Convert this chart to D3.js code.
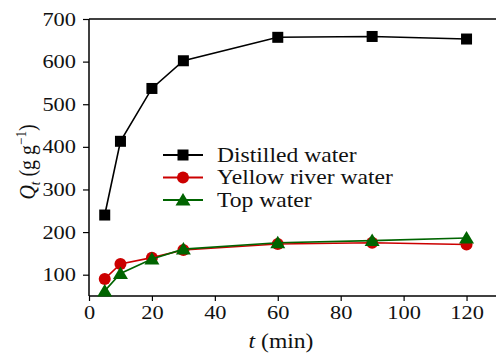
<!DOCTYPE html>
<html>
<head>
<meta charset="utf-8">
<script src="https://cdn.jsdelivr.net/npm/d3@7"></script>
<style>
  body { margin: 0; background: #fff; }
  svg { display: block; }
  svg text { font-family: "Liberation Serif", "Times New Roman", Times, serif; fill: #111; }
</style>
</head>
<body>
<script>
// data
const times = [5, 10, 20, 30, 60, 90, 120];
const distilled = [240, 413, 537, 602, 657, 659, 653];
const yellowRiver = [90, 125, 140, 158, 172, 175, 171];
const topWater = [62, 103, 137, 160, 175, 180, 186];

const xTicks = [0, 20, 40, 60, 80, 100, 120];
const yTicks = [100, 200, 300, 400, 500, 600, 700];

const series = [
    {name: 'Distilled water', values: distilled, colour: '#000', fill: '#000', marker: 'square'},
    {name: 'Yellow river water', values: yellowRiver, colour: '#cc0000', fill: '#cc0000', marker: 'circle'},
    {name: 'Top water', values: topWater, colour: '#006400', fill: '#006400', marker: 'triangle'}
];

const W = 496, H = 353;
const margin = {left: 89, top: 19, right: -2, bottom: 57};
const stretch = 'scale(1.18,1)'; // source figure is a bit wider than tall

const svg = d3.select('body').append('svg')
    .attr('width', W)
    .attr('height', H);

const x = d3.scaleLinear().domain([0, 130]).range([margin.left, W - margin.right]);
const y = d3.scaleLinear().domain([50, 700]).range([H - margin.bottom, margin.top]);

// top frame line
svg.append('line')
    .attr('x1', x(0)).attr('x2', W)
    .attr('y1', y(700)).attr('y2', y(700))
    .attr('stroke', '#000').attr('stroke-width', 1.5);

// x axis
const xAxis = svg.append('g').attr('transform', `translate(0,${y(50)})`);
xAxis.call(d3.axisBottom(x).tickValues(d3.range(10, 130, 20)).tickSize(3).tickFormat(''));
xAxis.call(d3.axisBottom(x).tickValues(xTicks).tickSize(5).tickPadding(4).tickFormat(d3.format('d')));
xAxis.selectAll('.domain').attr('stroke-width', 1.5).attr('d', `M${x(0)},0H${W}`);

// y axis
const yAxis = svg.append('g').attr('transform', `translate(${x(0)},0)`);
yAxis.call(d3.axisLeft(y).tickValues(d3.range(150, 700, 100)).tickSize(3).tickFormat(''));
yAxis.call(d3.axisLeft(y).tickValues(yTicks).tickSize(6).tickPadding(5).tickFormat(d3.format('d')));
yAxis.selectAll('.domain').attr('stroke-width', 1.5).attr('d', `M0,${y(700)}V${y(50)}`);

svg.selectAll('g').attr('font-family', null);
svg.selectAll('.tick line').attr('stroke', '#000').attr('stroke-width', 1.2);
svg.selectAll('.tick text')
    .style('font-size', '19px')
    .attr('transform', stretch)
    .attr('fill', '#111');
xAxis.selectAll('.tick text').attr('dy', '0.75em');

// axis titles
svg.append('g').attr('transform', 'translate(281,348)')
  .append('text')
    .attr('transform', stretch)
    .attr('text-anchor', 'middle')
    .style('font-size', '20px')
    .call(t => {
        t.append('tspan').style('font-style', 'italic').text('t');
        t.append('tspan').text(' (min)');
    });

svg.append('text')
    .attr('transform', 'translate(35,162) rotate(-90) scale(1,1.15)')
    .attr('text-anchor', 'middle')
    .style('font-size', '20px')
    .call(t => {
        t.append('tspan').style('font-style', 'italic').text('Q');
        t.append('tspan').style('font-style', 'italic').style('font-size', '13px').attr('dy', 4).text('t');
        t.append('tspan').attr('dy', -4).text(' (g g');
        t.append('tspan').style('font-size', '13px').attr('dy', -8).text('\u22121');
        t.append('tspan').attr('dy', 8).text(')');
    });

function drawMarker(g, type, fill, cx, cy) {
    if (type === 'square') {
        g.append('rect').attr('x', cx - 5.5).attr('y', cy - 5.5)
            .attr('width', 11).attr('height', 11).attr('fill', fill);
    } else if (type === 'circle') {
        g.append('circle').attr('cx', cx).attr('cy', cy).attr('r', 6).attr('fill', fill);
    } else {
        g.append('path')
            .attr('d', `M${cx},${cy - 7}L${cx + 7.5},${cy + 5.5}L${cx - 7.5},${cy + 5.5}Z`)
            .attr('fill', fill);
    }
}

const line = d3.line().x(d => x(d[0])).y(d => y(d[1]));

series.forEach(s => {
    const pts = times.map((t, i) => [t, s.values[i]]);
    const g = svg.append('g');
    g.append('path')
        .attr('d', line(pts))
        .attr('fill', 'none')
        .attr('stroke', s.colour)
        .attr('stroke-width', 1.6);
    pts.forEach(p => drawMarker(g, s.marker, s.fill, x(p[0]), y(p[1])));
});

// legend
const legend = svg.append('g');
series.forEach((s, i) => {
    const ly = 155 + i * 22.5;
    legend.append('line')
        .attr('x1', 163).attr('x2', 203)
        .attr('y1', ly).attr('y2', ly)
        .attr('stroke', s.colour).attr('stroke-width', 1.8);
    drawMarker(legend, s.marker, s.fill, 183, ly);
    legend.append('g').attr('transform', `translate(217,${ly + 6.5})`)
      .append('text')
        .attr('transform', stretch)
        .style('font-size', '20px')
        .text(s.name);
});
</script>
</body>
</html>
